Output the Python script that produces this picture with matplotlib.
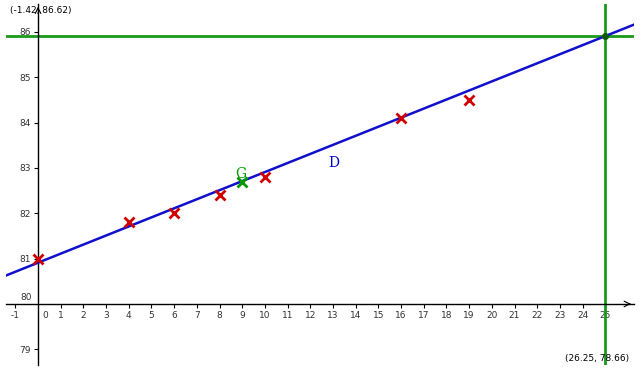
import matplotlib.pyplot as plt

plt.rcParams['axes.unicode_minus'] = False

# view window
x_min, x_max = -1.42, 26.25
y_min, y_max = 78.66, 86.62

# data points
pts_x = [0, 4, 6, 8, 10, 16, 19]
pts_y = [81.0, 81.8, 82.0, 82.4, 82.8, 84.1, 84.5]

# mean point G
g_x, g_y = 9, 82.7

# line D  (y = a*x + b)
line_a, line_b = 0.2, 80.91
line_x = [x_min, x_max]

# green cursor lines
vline_x = 25
hline_y = 85.91

x_ticks = [-1] + list(range(1, 26))
y_ticks = [79, 81, 82, 83, 84, 85, 86]

fig = plt.figure(figsize=(6.43, 3.71), dpi=100)
ax = fig.add_axes([0.009, 0.017, 0.9765, 0.9725])
ax.set_xlim(x_min, x_max)
ax.set_ylim(y_min, y_max)

for s in ['top', 'right']:
    ax.spines[s].set_visible(False)
ax.spines['left'].set_position(('data', 0))
ax.spines['bottom'].set_position(('data', 80))
ax.spines['left'].set_linewidth(1)
ax.spines['bottom'].set_linewidth(1)

ax.set_xticks(x_ticks)
ax.set_yticks(y_ticks)
ax.tick_params(direction='out', length=3, width=0.8, labelsize=6.5,
               labelcolor='#333333', pad=2)

# origin labels
ax.text(0.3, 79.75, '0', fontsize=6.5, color='#333333', ha='center', va='center')
ax.text(-0.25, 80.05, '80', fontsize=6.5, color='#333333', ha='right', va='bottom')

# axis arrows
ax.annotate('', xy=(x_max, 80), xytext=(x_max - 0.3, 80),
            arrowprops=dict(arrowstyle='->', lw=0.8, color='black'))
ax.annotate('', xy=(0, y_max), xytext=(0, y_max - 0.2),
            arrowprops=dict(arrowstyle='->', lw=0.8, color='black'))

# green lines
ax.axhline(hline_y, color='#1a9a1a', lw=2, zorder=2)
ax.axvline(vline_x, color='#1a9a1a', lw=2, zorder=2)

# line D
ax.plot(line_x, [line_a * x + line_b for x in line_x], color='#1010cc', lw=1.8, zorder=3)

# intersection point
ax.plot(vline_x, line_a * vline_x + line_b, 'o', ms=4, color='#0a5a0a', zorder=5)

# data points
ax.plot(pts_x, pts_y, 'x', ms=7.5, mew=2, color='#d00000', zorder=4, clip_on=False)
ax.plot(g_x, g_y, 'x', ms=7.5, mew=2, color='#009900', zorder=4)

ax.text(8.95, 82.72, 'G', fontsize=10, color='#009900', family='DejaVu Serif',
        ha='center', va='bottom')
ax.text(13.05, 82.95, 'D', fontsize=10, color='#0000cc', family='DejaVu Serif',
        ha='center', va='bottom')

# corner coordinates
fig.text(10 / 643, 1 - 11 / 371, '(-1.42, 86.62)', fontsize=6.5, color='black',
         ha='left', va='center')
fig.text(629 / 643, 1 - 358 / 371, '(26.25, 78.66)', fontsize=6.5, color='black',
         ha='right', va='center')

fig.savefig('out.png', dpi=100)
